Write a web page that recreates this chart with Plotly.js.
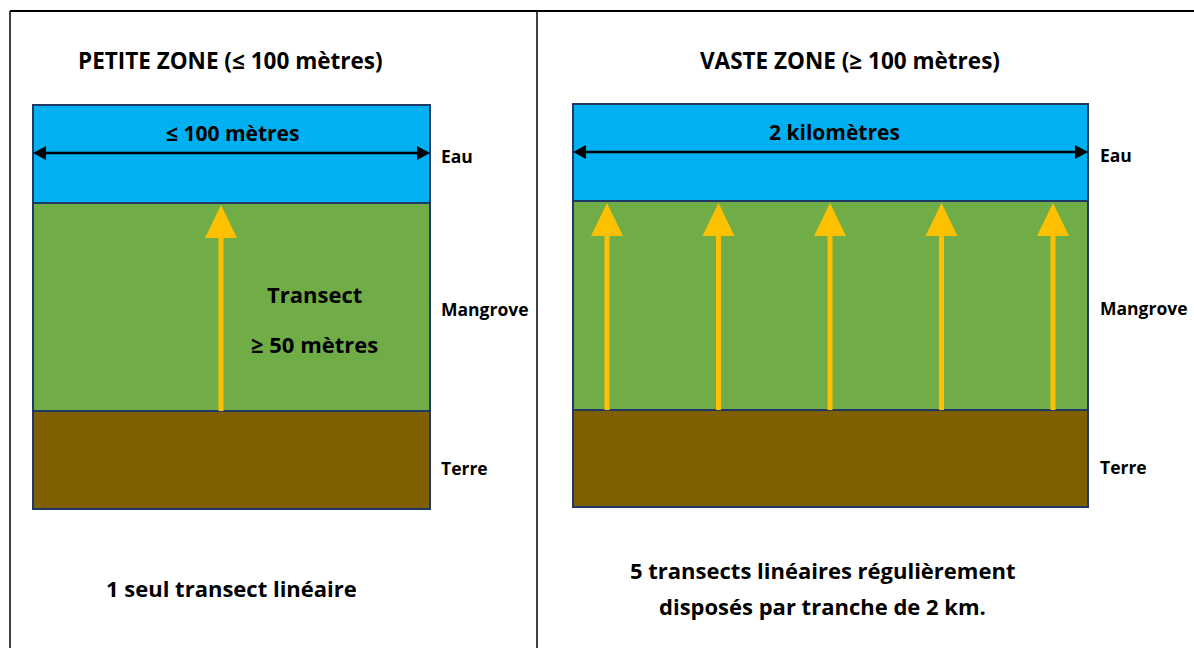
<!DOCTYPE html>
<html>
<head>
<meta charset="utf-8">
<script src="https://cdn.plot.ly/plotly-3.0.1.min.js"></script>
<style>html,body{margin:0;padding:0;background:#fff;}#chart{width:1194px;height:648px;}</style>
</head>
<body>
<div id="chart"></div>
<script>
// ---- data ----
const panelTitles = ['PETITE ZONE (≤ 100 mètres)', 'VASTE ZONE (≥ 100 mètres)'];
const widthLabels = ['≤ 100 mètres', '2 kilomètres'];
const layerNames = ['Eau', 'Mangrove', 'Terre'];
const transectCounts = [1, 5];
const transectLabel = ['Transect', '≥ 50 mètres'];
const captions = [['1 seul transect linéaire'], ['5 transects linéaires régulièrement', 'disposés par tranche de 2 km.']];

// ---- geometry / style (layout, in axis units = px) ----
const boxes = [
  {x0: 33, x1: 430, y: [105, 203, 411, 509], labelX: 439, arrowXs: [221]},
  {x0: 573, x1: 1088, y: [104, 201, 410, 507], labelX: 1098, arrowXs: null}
];
const layerColors = ['#00B0F0', '#70AD47', '#7F6000'];
const edge = '#1F3864';
const yellow = '#FFC000';
const FONT = '"Open Sans", "Noto Sans", sans-serif';

const shapes = [];
const annotations = [];

// frame
shapes.push({type: 'line', x0: 10, x1: 1194, y0: 11, y1: 11, line: {color: '#000', width: 2}});
shapes.push({type: 'line', x0: 10, x1: 10, y0: 11, y1: 648, line: {color: '#000', width: 1.5}});
shapes.push({type: 'line', x0: 537, x1: 537, y0: 11, y1: 648, line: {color: '#000', width: 1.5}});

boxes.forEach((b, p) => {
  const cx = (b.x0 + b.x1) / 2;
  // layers
  layerNames.forEach((name, i) => {
    shapes.push({type: 'rect', x0: b.x0, x1: b.x1, y0: b.y[i], y1: b.y[i + 1],
      fillcolor: layerColors[i], line: {color: edge, width: 2}, layer: 'below'});
    const ly = i === 0 ? b.y[0] + 51 : (b.y[i] + b.y[i + 1]) / 2 + (i === 1 ? 2 : 8);
    annotations.push({x: b.labelX, y: ly, text: '<b>' + name + '</b>', showarrow: false,
      xanchor: 'left', yanchor: 'middle', font: {family: FONT, size: 17.5, color: '#000'}});
  });
  // panel title
  annotations.push({x: p === 0 ? 230 : 850, y: 60, text: '<b>' + panelTitles[p] + '</b>', showarrow: false,
    xanchor: 'center', yanchor: 'middle', font: {family: FONT, size: 22.5, color: '#000'}});
  // width label + double arrow
  annotations.push({x: cx + (p === 0 ? 1 : 4), y: b.y[0] + 28, text: '<b>' + widthLabels[p] + '</b>', showarrow: false,
    xanchor: 'center', yanchor: 'middle', font: {family: FONT, size: 21, color: '#000'}});
  const ay = b.y[0] + 48;
  shapes.push({type: 'line', x0: b.x0 + 10, x1: b.x1 - 10, y0: ay, y1: ay, line: {color: '#000', width: 2.5}});
  shapes.push({type: 'path', path: `M ${b.x0} ${ay} L ${b.x0 + 13} ${ay - 7} L ${b.x0 + 13} ${ay + 7} Z`, fillcolor: '#000', line: {width: 0}});
  shapes.push({type: 'path', path: `M ${b.x1} ${ay} L ${b.x1 - 13} ${ay - 7} L ${b.x1 - 13} ${ay + 7} Z`, fillcolor: '#000', line: {width: 0}});
  // transect arrows
  const n = transectCounts[p];
  const xs = b.arrowXs || Array.from({length: n}, (_, k) => b.x0 + 34 + k * (b.x1 - b.x0 - 69) / (n - 1));
  const yTop = b.y[1] + 2, yBot = b.y[2];
  xs.forEach(x => {
    shapes.push({type: 'line', x0: x, x1: x, y0: yBot, y1: yTop + 28, line: {color: yellow, width: 5}});
    shapes.push({type: 'path', path: `M ${x} ${yTop} L ${x - 16} ${yTop + 33} L ${x + 16} ${yTop + 33} Z`, fillcolor: yellow, line: {width: 0}});
  });
  // captions
  const cap = captions[p];
  cap.forEach((t, k) => {
    annotations.push({x: p === 0 ? 231 : 822, y: (p === 0 ? 588 : 570) + k * 36, text: '<b>' + t + '</b>', showarrow: false,
      xanchor: 'center', yanchor: 'middle', font: {family: FONT, size: 22, color: '#000'}});
  });
});

// transect label (left panel)
transectLabel.forEach((t, k) => {
  annotations.push({x: 314, y: 294 + k * 50, text: '<b>' + t + '</b>', showarrow: false,
    xanchor: 'center', yanchor: 'middle', font: {family: FONT, size: 22, color: '#000'}});
});

const layout = {
  width: 1194, height: 648,
  margin: {l: 0, r: 0, t: 0, b: 0},
  paper_bgcolor: '#fff', plot_bgcolor: '#fff',
  xaxis: {range: [0, 1194], visible: false, fixedrange: true},
  yaxis: {range: [648, 0], visible: false, fixedrange: true},
  shapes: shapes,
  annotations: annotations,
  showlegend: false
};
Plotly.newPlot('chart', [{x: [], y: [], type: 'scatter'}], layout, {displayModeBar: false, staticPlot: true});
</script>
</body>
</html>
